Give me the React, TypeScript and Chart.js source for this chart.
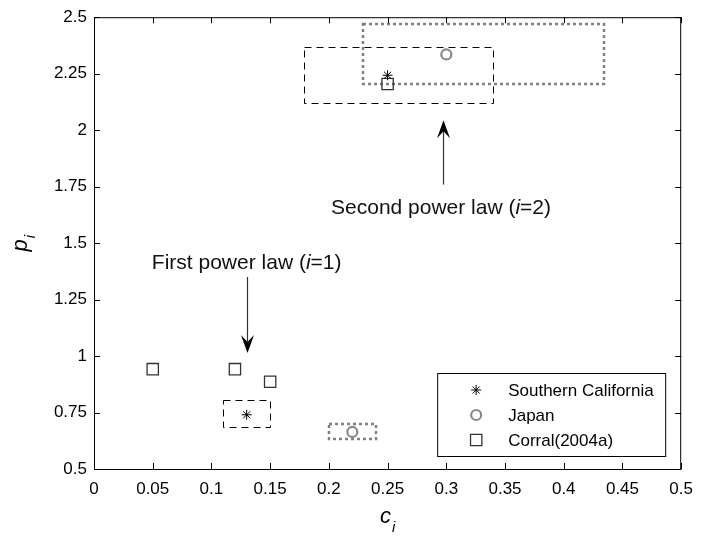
import React, { useEffect, useRef } from "react";
import { Chart, registerables } from "chart.js";

Chart.register(...registerables);

const FONT = "'Liberation Sans', Arial, sans-serif";

const cTicks = [0, 0.05, 0.1, 0.15, 0.2, 0.25, 0.3, 0.35, 0.4, 0.45, 0.5];
const pTicks = [0.5, 0.75, 1, 1.25, 1.5, 1.75, 2, 2.25, 2.5];

const seriesNames = ["Southern California", "Japan", "Corral(2004a)"];
const socalC = [0.13, 0.25];
const socalP = [0.74, 2.243];
const japanC = [0.22, 0.3];
const japanP = [0.664, 2.335];
const corralC = [0.05, 0.12, 0.15, 0.25];
const corralP = [0.942, 0.942, 0.886, 2.204];

// boxes in data units: [c0, c1, p0, p1]
const dashedBoxes = [
  [0.11, 0.15, 0.685, 0.805],
  [0.179, 0.34, 2.118, 2.367],
];
const dottedBoxes = [
  [0.2, 0.24, 0.635, 0.698],
  [0.229, 0.434, 2.206, 2.469],
];

// arrows: [c, pFrom, pTip]
const arrows = [
  [0.13, 1.35, 1.013],
  [0.297, 1.759, 2.044],
];
// annotations: [c (center), p (baseline), before, italic, after]
const noteC = [0.13, 0.2955];
const noteP = [1.386, 1.627];
const notePre = ["First power law (", "Second power law ("];
const noteIt = ["i", "i"];
const notePost = ["=1)", "=2)"];

function zip(xs: number[], ys: number[]) {
  return xs.map((x, i) => ({ x, y: ys[i] }));
}

function drawMarker(ctx: CanvasRenderingContext2D, kind: number, x: number, y: number) {
  ctx.save();
  ctx.beginPath();
  if (kind === 0) {
    ctx.strokeStyle = "#000";
    ctx.lineWidth = 1;
    const r = 5;
    const d = r * Math.SQRT1_2;
    ctx.moveTo(x - r, y); ctx.lineTo(x + r, y);
    ctx.moveTo(x, y - r); ctx.lineTo(x, y + r);
    ctx.moveTo(x - d, y - d); ctx.lineTo(x + d, y + d);
    ctx.moveTo(x - d, y + d); ctx.lineTo(x + d, y - d);
    ctx.stroke();
  } else if (kind === 1) {
    ctx.strokeStyle = "#888";
    ctx.lineWidth = 2.2;
    ctx.arc(x, y, 5, 0, Math.PI * 2);
    ctx.stroke();
  } else {
    ctx.strokeStyle = "#333";
    ctx.lineWidth = 1.3;
    const s = 8 * Math.SQRT1_2;
    ctx.rect(x - s, y - s, 2 * s, 2 * s);
    ctx.stroke();
  }
  ctx.restore();
}

const decorPlugin = {
  id: "decor",
  beforeDatasetsDraw(chart: any) {
    const { ctx, scales } = chart;
    const xs = scales.x;
    const ys = scales.y;
    ctx.save();
    ctx.strokeStyle = "#000";
    ctx.lineWidth = 1;
    ctx.setLineDash([7, 5]);
    dashedBoxes.forEach((b) => {
      const x0 = Math.round(xs.getPixelForValue(b[0])) + 0.5;
      const x1 = Math.round(xs.getPixelForValue(b[1])) + 0.5;
      const y0 = Math.round(ys.getPixelForValue(b[2])) + 0.5;
      const y1 = Math.round(ys.getPixelForValue(b[3])) + 0.5;
      ctx.strokeRect(x0, y1, x1 - x0, y0 - y1);
    });
    ctx.strokeStyle = "#808080";
    ctx.lineWidth = 2.5;
    ctx.setLineDash([3, 3]);
    dottedBoxes.forEach((b) => {
      const x0 = Math.round(xs.getPixelForValue(b[0]));
      const x1 = Math.round(xs.getPixelForValue(b[1]));
      const y0 = Math.round(ys.getPixelForValue(b[2]));
      const y1 = Math.round(ys.getPixelForValue(b[3]));
      ctx.strokeRect(x0, y1, x1 - x0, y0 - y1);
    });
    ctx.restore();
  },
  afterDraw(chart: any) {
    const { ctx, chartArea, scales } = chart;
    const xs = scales.x;
    const ys = scales.y;
    const { left, right, top, bottom } = chartArea;
    ctx.save();
    // frame
    ctx.strokeStyle = "#000";
    ctx.lineWidth = 1;
    ctx.setLineDash([]);
    ctx.strokeRect(left + 0.5, top + 0.5, right - left - 1, bottom - top);
    // inward ticks
    const tl = 6;
    ctx.beginPath();
    cTicks.forEach((v) => {
      const px = Math.round(xs.getPixelForValue(v)) + 0.5;
      ctx.moveTo(px, bottom); ctx.lineTo(px, bottom - tl);
      ctx.moveTo(px, top); ctx.lineTo(px, top + tl);
    });
    pTicks.forEach((v) => {
      const py = Math.round(ys.getPixelForValue(v)) + 0.5;
      ctx.moveTo(left, py); ctx.lineTo(left + tl, py);
      ctx.moveTo(right, py); ctx.lineTo(right - tl, py);
    });
    ctx.stroke();

    // axis titles
    ctx.fillStyle = "#000";
    ctx.textBaseline = "alphabetic";
    ctx.textAlign = "left";
    const mainF = `italic 22px ${FONT}`;
    const subF = `italic 15px ${FONT}`;
    // x title c_i
    ctx.font = mainF;
    const wc = ctx.measureText("c").width;
    ctx.font = subF;
    const wi = ctx.measureText("i").width;
    const cx = (left + right) / 2 - (wc + wi + 1) / 2;
    ctx.font = mainF;
    ctx.fillText("c", cx, 523);
    ctx.font = subF;
    ctx.fillText("i", cx + wc + 1, 532);
    // y title p_i
    ctx.save();
    ctx.translate(27, (top + bottom) / 2);
    ctx.rotate(-Math.PI / 2);
    ctx.font = mainF;
    const wp = ctx.measureText("p").width;
    const sx = -(wp + wi + 1) / 2;
    ctx.fillText("p", sx, 0);
    ctx.font = subF;
    ctx.fillText("i", sx + wp + 1, 8);
    ctx.restore();

    // arrows
    arrows.forEach((a) => {
      const px = Math.round(xs.getPixelForValue(a[0])) + 0.5;
      const y0 = ys.getPixelForValue(a[1]);
      const y1 = ys.getPixelForValue(a[2]);
      const dir = y1 > y0 ? 1 : -1;
      const hl = 18;
      const hw = 6.5;
      ctx.strokeStyle = "#333";
      ctx.lineWidth = 1.2;
      ctx.beginPath();
      ctx.moveTo(px, y0);
      ctx.lineTo(px, y1 - dir * hl * 0.6);
      ctx.stroke();
      ctx.fillStyle = "#000";
      ctx.beginPath();
      ctx.moveTo(px, y1);
      ctx.lineTo(px - hw, y1 - dir * hl);
      ctx.lineTo(px, y1 - dir * hl * 0.62);
      ctx.lineTo(px + hw, y1 - dir * hl);
      ctx.closePath();
      ctx.fill();
    });

    // annotations
    const nF = `21px ${FONT}`;
    const nIF = `italic 21px ${FONT}`;
    ctx.fillStyle = "#111";
    noteC.forEach((c, k) => {
      ctx.font = nF;
      const w1 = ctx.measureText(notePre[k]).width;
      const w3 = ctx.measureText(notePost[k]).width;
      ctx.font = nIF;
      const w2 = ctx.measureText(noteIt[k]).width;
      const total = w1 + w2 + w3;
      let x = xs.getPixelForValue(c) - total / 2;
      const y = ys.getPixelForValue(noteP[k]);
      ctx.font = nF;
      ctx.fillText(notePre[k], x, y);
      x += w1;
      ctx.font = nIF;
      ctx.fillText(noteIt[k], x, y);
      x += w2;
      ctx.font = nF;
      ctx.fillText(notePost[k], x, y);
    });

    // legend
    const lx0 = right - 16 - 228;
    const ly0 = bottom - 13 - 83;
    ctx.fillStyle = "#fff";
    ctx.fillRect(lx0, ly0, 228, 83);
    ctx.strokeStyle = "#000";
    ctx.lineWidth = 1;
    ctx.strokeRect(lx0 + 0.5, ly0 + 0.5, 228, 83);
    ctx.font = `17px ${FONT}`;
    ctx.textBaseline = "middle";
    ctx.fillStyle = "#000";
    seriesNames.forEach((name, k) => {
      const y = ly0 + 17 + k * 25;
      drawMarker(ctx, k, lx0 + 39, y);
      ctx.fillStyle = "#000";
      ctx.fillText(name, lx0 + 71, y + 1);
    });
    ctx.restore();
  },
};

export default function App() {
  const ref = useRef<HTMLCanvasElement | null>(null);
  useEffect(() => {
    if (!ref.current) return;
    const tickFont = { family: FONT, size: 17 };
    const chart = new Chart(ref.current, {
      type: "scatter",
      data: {
        datasets: [
          {
            label: seriesNames[0],
            data: zip(socalC, socalP),
            pointStyle: "star",
            pointRadius: 5,
            borderColor: "#000",
            backgroundColor: "#000",
            borderWidth: 1,
          },
          {
            label: seriesNames[1],
            data: zip(japanC, japanP),
            pointStyle: "circle",
            pointRadius: 5,
            borderColor: "#888",
            backgroundColor: "rgba(0,0,0,0)",
            borderWidth: 2.2,
          },
          {
            label: seriesNames[2],
            data: zip(corralC, corralP),
            pointStyle: "rect",
            pointRadius: 8,
            borderColor: "#333",
            backgroundColor: "rgba(0,0,0,0)",
            borderWidth: 1.3,
          },
        ],
      },
      options: {
        animation: false,
        responsive: false,
        events: [],
        layout: { padding: { top: 13, right: 21, left: 0, bottom: 0 } },
        plugins: { legend: { display: false }, tooltip: { enabled: false } },
        scales: {
          x: {
            type: "linear",
            min: 0,
            max: 0.5,
            afterBuildTicks: (s: any) => {
              s.ticks = cTicks.map((v) => ({ value: v }));
            },
            afterFit: (s: any) => {
              s.height = 68;
            },
            ticks: {
              font: tickFont,
              color: "#000",
              padding: 10,
              maxRotation: 0,
              autoSkip: false,
              callback: (v: any) => String(v),
            },
            grid: { display: false, drawTicks: false },
            border: { display: false },
          },
          y: {
            type: "linear",
            min: 0.5,
            max: 2.5,
            afterBuildTicks: (s: any) => {
              s.ticks = pTicks.map((v) => ({ value: v }));
            },
            afterFit: (s: any) => {
              s.width = 94;
            },
            ticks: {
              font: tickFont,
              color: "#000",
              padding: 7,
              autoSkip: false,
              callback: (v: any) => String(v),
            },
            grid: { display: false, drawTicks: false },
            border: { display: false },
          },
        },
      },
      plugins: [decorPlugin],
    });
    return () => chart.destroy();
  }, []);
  return (
    <div style={{ position: "absolute", left: 0, top: 0, width: 703, height: 537, background: "#fff" }}>
      <canvas ref={ref} width={703} height={537} style={{ width: 703, height: 537 }} />
    </div>
  );
}
